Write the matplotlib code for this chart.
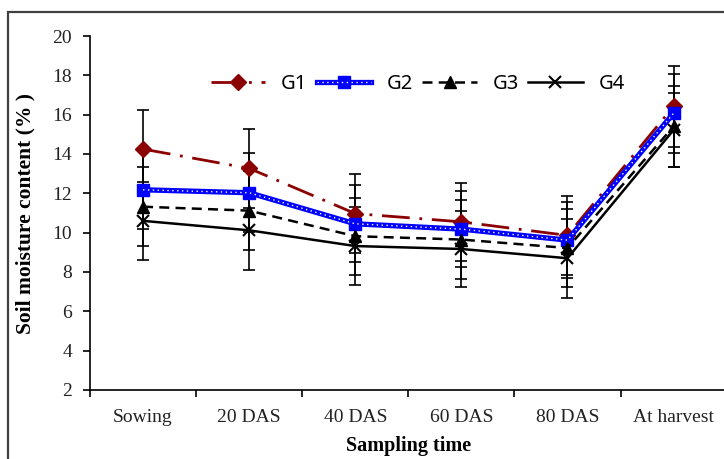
import numpy as np
import matplotlib
matplotlib.use("Agg")
import matplotlib.pyplot as plt
from matplotlib.legend_handler import HandlerTuple
from matplotlib.patches import Rectangle

# Donnees
temps = ["Sowing", "20 DAS", "40 DAS", "60 DAS", "80 DAS", "At harvest"]
g1 = [14.25, 13.27, 10.97, 10.55, 9.86, 16.42]
g2 = [12.18, 12.03, 10.45, 10.18, 9.62, 16.07]
g3 = [11.32, 11.12, 9.82, 9.65, 9.22, 15.40]
g4 = [10.60, 10.12, 9.32, 9.17, 8.70, 15.22]
err1 = [2.0, 2.0, 2.0, 2.0, 2.0, 2.05]
err2 = [2.0, 2.0, 1.95, 1.95, 1.95, 2.0]
err3 = [2.0, 2.0, 1.95, 2.0, 2.0, 2.05]
err4 = [2.0, 2.0, 2.0, 1.95, 2.0, 1.9]

serif = "Liberation Serif"

fig = plt.figure(figsize=(7.24, 4.59), dpi=100)
ax = fig.add_axes([90/724, 1-390/459, 636.6/724, 354/459])

# cadre exterieur
fig.patches.append(Rectangle((8/724, -0.1), 1.2, 1-12/459+0.1, transform=fig.transFigure,
                             fill=False, edgecolor="#404040", linewidth=1.6))

x = np.arange(len(temps))

# barres d'erreur
for y, e in [(g1, err1), (g2, err2), (g3, err3), (g4, err4)]:
    ax.errorbar(x, y, yerr=e, fmt="none", ecolor="black", elinewidth=1.2,
                capsize=4.5, capthick=1.2, zorder=2)

maroon = "#8B0000"
l1, = ax.plot(x, g1, color=maroon, lw=2.0, ls=(0, (10, 3.5, 1, 3.5)),
              marker="D", ms=8, mfc=maroon, mec=maroon, zorder=3)
l2, = ax.plot(x, g2, color="#0000FF", lw=3.8, marker="s", ms=9,
              mfc="#0000FF", mec="#0000FF", zorder=4)
l2b, = ax.plot(x, g2, color="white", lw=1.0, ls=(0, (1, 2.5)), zorder=4)
l3, = ax.plot(x, g3, color="black", lw=1.8, ls=(0, (4, 2.5)),
              marker="^", ms=8, mfc="black", mec="black", zorder=5)
l4, = ax.plot(x, g4, color="black", lw=1.8, marker="x", ms=9, mew=1.5, zorder=6)

ax.legend([l1, (l2, l2b), l3, l4], ["G1", "G2", "G3", "G4"],
          handler_map={tuple: HandlerTuple(ndivide=1, pad=0)},
          ncol=4, frameon=False, loc="center", bbox_to_anchor=(0.515, 0.865),
          prop={"family": "Noto Sans", "size": 14.5}, handlelength=2.7,
          handletextpad=0.8, columnspacing=0.45)

ax.set_xlim(-0.5, 5.5)
ax.set_ylim(2, 20)
ax.set_yticks(np.arange(2, 21, 2))
ax.set_xticks(x)
ax.set_xticklabels(temps)
ax.set_xticks(np.arange(-0.5, 6, 1), minor=True)
ax.tick_params(axis="x", which="major", length=0, pad=14)
ax.tick_params(axis="x", which="minor", length=5, width=1.2, direction="out")
ax.tick_params(axis="y", length=5, width=1.2, pad=8)
for lab in ax.get_xticklabels() + ax.get_yticklabels():
    lab.set_fontfamily(serif)
    lab.set_fontsize(14)
    lab.set_color("#222222")

ax.spines["top"].set_visible(False)
ax.spines["right"].set_visible(False)
ax.spines["left"].set_linewidth(1.2)
ax.spines["bottom"].set_linewidth(1.2)

ax.set_xlabel("Sampling time", fontfamily=serif, fontweight="bold", fontsize=14.5, labelpad=7)
ax.set_ylabel("Soil moisture content (% )", fontfamily=serif, fontweight="bold",
              fontsize=15.5, labelpad=12)

fig.savefig("out.png", dpi=100)
